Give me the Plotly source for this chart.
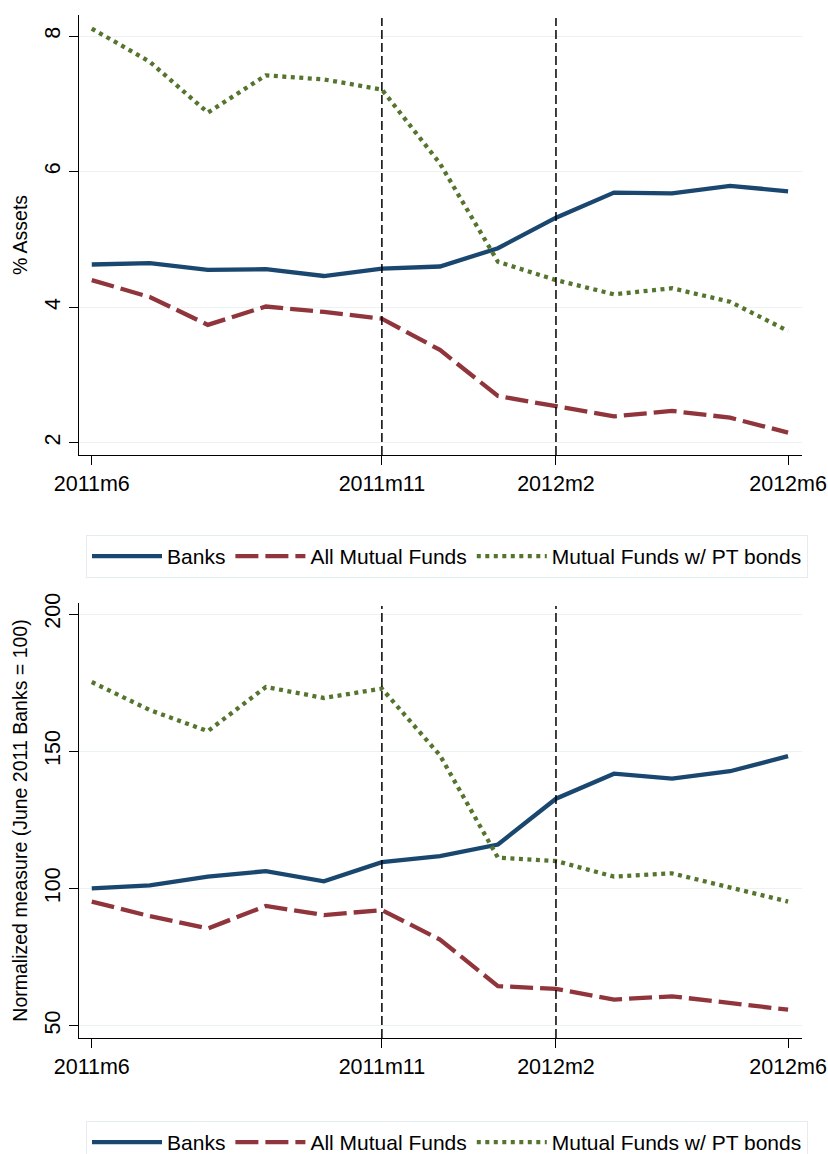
import plotly.graph_objects as go

months = ["2011m6", "2011m7", "2011m8", "2011m9", "2011m10", "2011m11", "2011m12",
          "2012m1", "2012m2", "2012m3", "2012m4", "2012m5", "2012m6"]
tick_labels = ["2011m6", "2011m11", "2012m2", "2012m6"]
event_months = ["2011m11", "2012m2"]

# Top panel: % of assets
banks_pct = [4.63, 4.65, 4.55, 4.56, 4.46, 4.57, 4.60, 4.87, 5.32, 5.69, 5.68, 5.79, 5.71]
mf_pct = [4.40, 4.15, 3.74, 4.01, 3.93, 3.83, 3.37, 2.69, 2.54, 2.39, 2.47, 2.37, 2.15]
mfpt_pct = [8.11, 7.62, 6.87, 7.42, 7.36, 7.21, 6.12, 4.67, 4.40, 4.19, 4.28, 4.08, 3.65]

# Bottom panel: normalized (June 2011 Banks = 100)
banks_norm = [100.0, 101.1, 104.3, 106.3, 102.6, 109.6, 111.8, 116.0, 132.7, 141.8, 140.0, 142.7, 148.2]
mf_norm = [95.2, 89.9, 85.4, 93.6, 90.3, 92.1, 81.4, 64.4, 63.4, 59.5, 60.7, 58.3, 55.8]
mfpt_norm = [175.2, 165.0, 157.3, 173.4, 169.4, 172.8, 148.5, 111.2, 110.0, 104.3, 105.5, 100.3, 95.2]

names = ["Banks", "All Mutual Funds", "Mutual Funds w/ PT bonds"]
colors = ["#1a476f", "#90353b", "#55752f"]
dashes = ["solid", "23px,7px", "4px,4.5px"]

FONT = "Liberation Sans, Arial, sans-serif"

fig = go.Figure()

top_series = [banks_pct, mf_pct, mfpt_pct]
bot_series = [banks_norm, mf_norm, mfpt_norm]

for i in range(3):
    fig.add_trace(go.Scatter(
        x=months, y=top_series[i], mode="lines", name=names[i],
        line=dict(color=colors[i], width=4.3, dash=dashes[i]),
        xaxis="x", yaxis="y", legend="legend"))
for i in range(3):
    fig.add_trace(go.Scatter(
        x=months, y=bot_series[i], mode="lines", name=names[i],
        line=dict(color=colors[i], width=4.3, dash=dashes[i]),
        xaxis="x2", yaxis="y2", legend="legend2"))

for xr, yr in [("x", "y"), ("x2", "y2")]:
    for m in event_months:
        fig.add_shape(type="line", xref=xr, yref=yr + " domain",
                      x0=m, x1=m, y0=0, y1=0.993,
                      line=dict(color="black", width=1.5, dash="9px,4px"),
                      layer="above")

common_x = dict(
    type="category", categoryorder="array", categoryarray=months,
    range=[-0.22, 12.24], tickmode="array", tickvals=tick_labels, ticktext=tick_labels,
    showline=True, linecolor="black", linewidth=1.3, ticks="outside",
    ticklen=9, tickwidth=1.3, tickcolor="black", showgrid=False, zeroline=False,
    automargin=False,
    tickfont=dict(family=FONT, size=21.5, color="black"))

common_y = dict(
    showline=True, linecolor="black", linewidth=1.3, ticks="outside",
    ticklen=9, tickwidth=1.3, tickcolor="black", showgrid=True,
    gridcolor="#eaf2f3", gridwidth=1.2, zeroline=False, tickangle=-90,
    automargin=False,
    tickfont=dict(family=FONT, size=21.5, color="black"))

legend_common = dict(
    orientation="h", xanchor="left",
    bgcolor="white", bordercolor="#e3ecef", borderwidth=1,
    font=dict(family=FONT, size=21, color="black"),
    itemwidth=70)

fig.update_layout(
    width=828, height=1154,
    margin=dict(l=79, r=26, t=15, b=116, autoexpand=False),
    paper_bgcolor="white", plot_bgcolor="white",
    font=dict(family=FONT, size=20, color="black"),
    hovermode=False,
    xaxis=dict(common_x, domain=[0, 1], anchor="y"),
    yaxis=dict(common_y, domain=[0.5699, 1], anchor="x", range=[1.82, 8.31],
               tickvals=[2, 4, 6, 8],
               title=dict(text="% Assets", font=dict(family=FONT, size=19.5), standoff=8)),
    xaxis2=dict(common_x, domain=[0, 1], anchor="y2"),
    yaxis2=dict(common_y, domain=[0, 0.4252], anchor="x2", range=[45.5, 204.0],
                tickvals=[50, 100, 150, 200],
                title=dict(text="Normalized measure (June 2011 Banks = 100)",
                           font=dict(family=FONT, size=19.5), standoff=8)),
    legend=dict(legend_common, x=0.0097, y=0.4917, yanchor="top"),
    legend2=dict(legend_common, x=0.0097, y=-0.0811, yanchor="top"),
)

fig.write_html("out.html", config={"displayModeBar": False},
               post_script="document.body.style.margin='0';")
